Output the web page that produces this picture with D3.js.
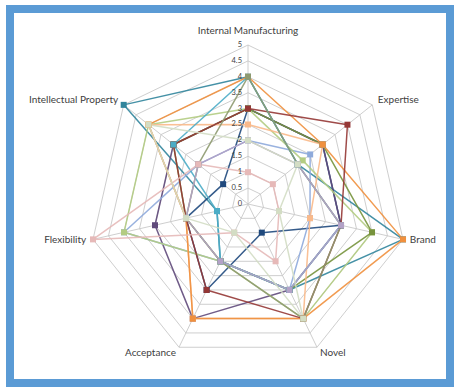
<!DOCTYPE html>
<html>
<head>
<meta charset="utf-8">
<script src="https://cdn.jsdelivr.net/npm/d3@7"></script>
<style>
  html, body { margin: 0; padding: 0; background: #fff; }
  svg { display: block; }
  text { font-family: Lato, "Open Sans", sans-serif; fill: #404040; }
</style>
</head>
<body>
<svg id="chart" width="454" height="388"></svg>
<script>
// Radar axes, clockwise from the top
const axes = ["Internal Manufacturing", "Expertise", "Brand", "Novel", "Acceptance", "Flexibility", "Intellectual Property"];
const tickValues = [0, 0.5, 1, 1.5, 2, 2.5, 3, 3.5, 4, 4.5, 5];
const tickLabels = ["0", "0.5", "1", "1.5", "2", "2.5", "3", "3.5", "4", "4.5", "5"];

// Scores per series, in axis order
const seriesTeal      = [4, 2, 5, 3, 2, 1, 5];
const seriesOrange    = [4, 3, 5, 4, 4, 2, 4];
const seriesDarkRed   = [3, 4, 3, 4, 3, 2, 3];
const seriesGreen     = [3, 3, 4, 3, 2, 2, 3];
const seriesPurple    = [3, 3, 3, 3, 4, 3, 3];
const seriesNavy      = [3, 3, 3, 1, 3, 2, 1];
const seriesPink      = [1, 1, 1, 2, 1, 5, 2];
const seriesLightGrn  = [3, 2.2, 4, 4, 2, 4, 4];
const seriesLightBlue = [2, 2.5, 2, 3, 2, 4, 2];
const seriesPale      = [2, 2, 1, 4, 1, 2, 4];
const seriesCyan      = [4, 2, 3, 3, 2, 1, 3];
const seriesLightOrg  = [2.5, 3, 2, 4, 4, 2, 4];
const seriesLavender  = [2, 2, 3, 3, 2, 2, 2];
const seriesOlive     = [4, 2, 3, 4, 2, 2, 2];

// drawing order, back to front
const allSeries = [seriesTeal, seriesNavy, seriesPurple, seriesLightBlue, seriesLightGrn,
                   seriesGreen, seriesLightOrg, seriesOrange, seriesDarkRed, seriesCyan,
                   seriesOlive, seriesLavender, seriesPink, seriesPale];
const palette = ["#31859C", "#1F497D", "#604A7B", "#8EAADB", "#B3CC82",
                 "#77933C", "#F9B98A", "#F0903E", "#953735", "#4BACC6",
                 "#8E9A70", "#B3A2C7", "#E6B9B8", "#D3DDC4"];

const svg = d3.select("#chart");
const cx = 248, cy = 204, R = 159;

// frame
svg.append("rect")
  .attr("x", 10).attr("y", 9).attr("width", 440).attr("height", 374)
  .attr("fill", "#fff").attr("stroke", "#5B9BD5").attr("stroke-width", 8);

const r = d3.scaleLinear().domain([0, 5]).range([0, R]);
const angle = d3.scaleLinear().domain([0, axes.length]).range([0, 2 * Math.PI]);
const pt = (i, v) => [cx + Math.sin(angle(i)) * r(v), cy - Math.cos(angle(i)) * r(v)];

const grid = svg.append("g");
// rings
tickValues.filter(v => v > 0).forEach(v => {
  grid.append("path")
    .attr("d", d3.line()(axes.map((_, i) => pt(i, v))) + "Z")
    .attr("fill", "none").attr("stroke", "#c8c8c8").attr("stroke-width", 0.9);
});
// spokes
axes.forEach((_, i) => {
  const [x, y] = pt(i, 5);
  grid.append("line").attr("x1", cx).attr("y1", cy).attr("x2", x).attr("y2", y)
    .attr("stroke", "#c8c8c8").attr("stroke-width", 0.9);
});

// series polygons
const line = d3.line().curve(d3.curveLinearClosed);
const plot = svg.append("g");
allSeries.forEach((vals, s) => {
  const pts = vals.map((v, i) => pt(i, v));
  plot.append("path").attr("d", line(pts))
    .attr("fill", "none").attr("stroke", palette[s]).attr("stroke-width", 1.5)
    .attr("stroke-opacity", 0.9).attr("stroke-linejoin", "round");
});
allSeries.forEach((vals, s) => {
  vals.forEach((v, i) => {
    const [x, y] = pt(i, v);
    plot.append("rect").attr("x", x - 3).attr("y", y - 3).attr("width", 6).attr("height", 6)
      .attr("fill", palette[s]);
  });
});

// value labels along the top spoke
tickValues.forEach((v, k) => {
  svg.append("text").attr("x", cx - 6).attr("y", cy - r(v))
    .attr("text-anchor", "end").attr("dominant-baseline", "middle")
    .attr("font-size", 7.5).attr("fill", "#595959").text(tickLabels[k]);
});

// axis names
axes.forEach((name, i) => {
  const s = Math.sin(angle(i)), c = Math.cos(angle(i));
  const [x, y] = pt(i, 5);
  const off = i === 0 ? 14 : 7;
  const anchor = s > 0.1 ? "start" : s < -0.1 ? "end" : "middle";
  svg.append("text").attr("x", x + s * off).attr("y", y - c * off)
    .attr("text-anchor", anchor).attr("dominant-baseline", "middle")
    .attr("font-size", 10).text(name);
});
</script>
</body>
</html>
